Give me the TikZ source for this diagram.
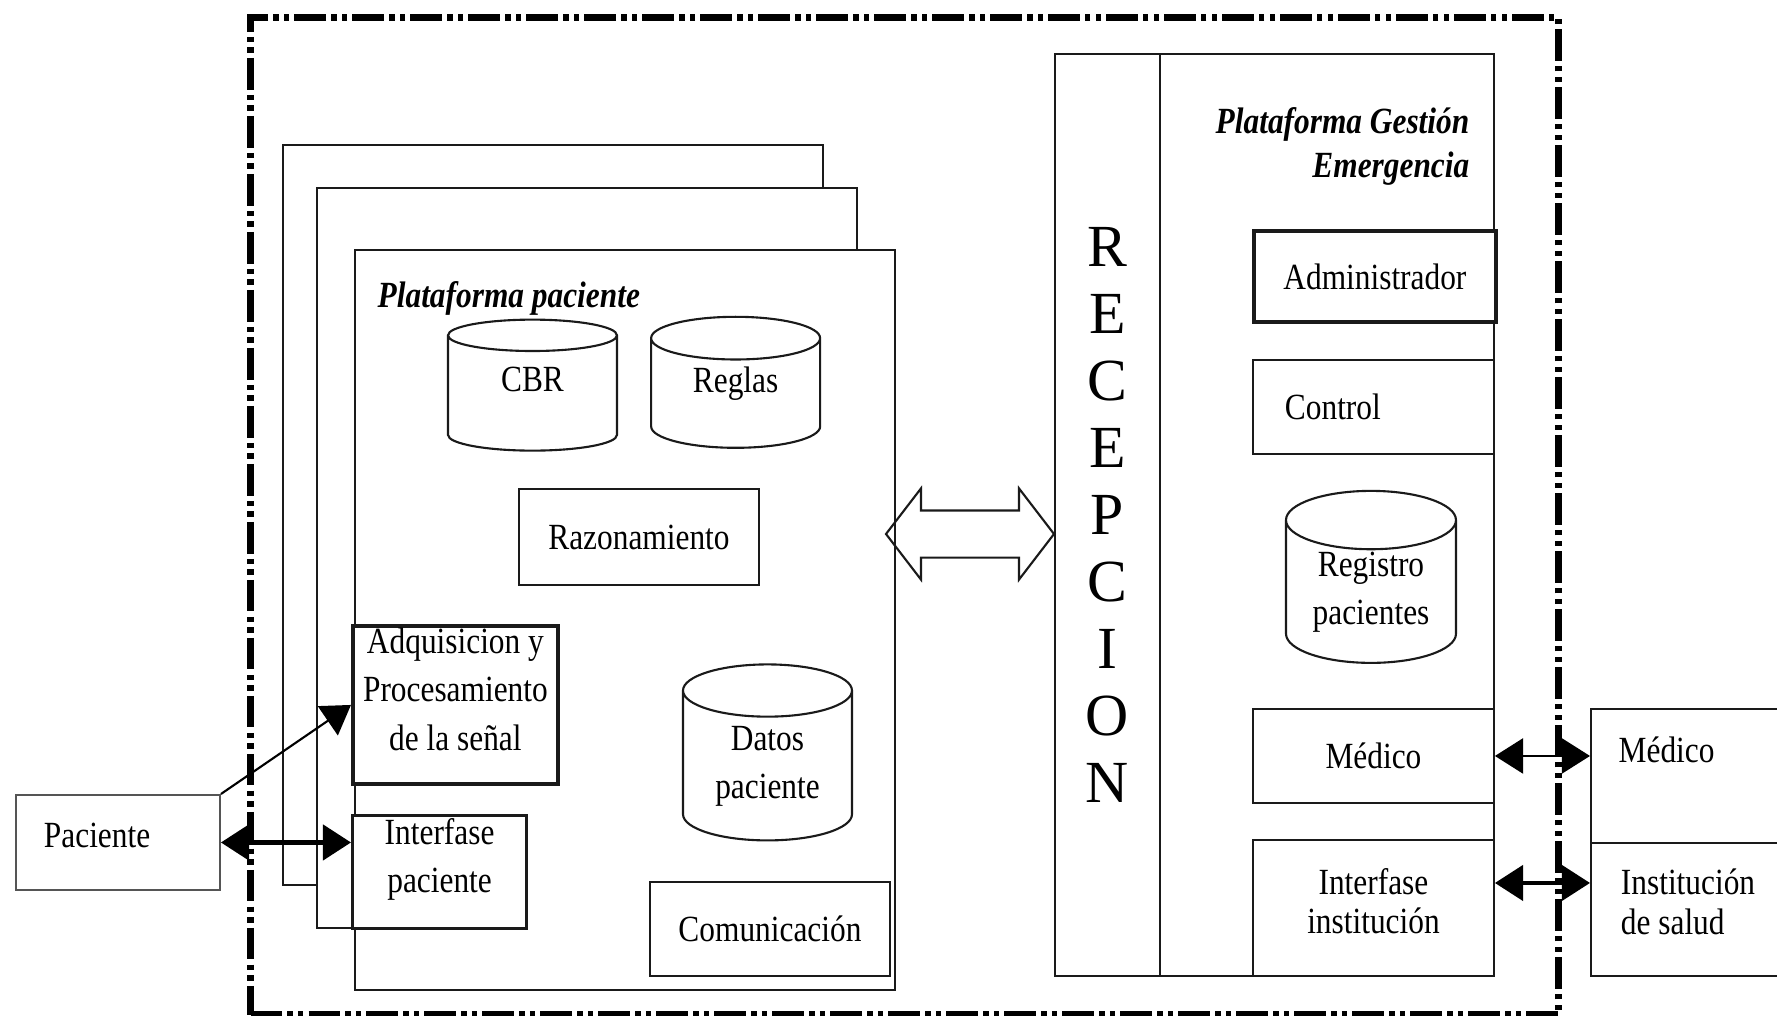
\documentclass[tikz,border=0pt]{standalone}
\usepackage{fontspec}
\setmainfont{Liberation Serif}[FakeStretch=0.85]
\newfontfamily\recfont{Liberation Serif}
\usepackage{tikz}
\usetikzlibrary{shapes.geometric,shapes.arrows,arrows.meta,positioning}
\definecolor{bordecol}{HTML}{1A1A1A}
\definecolor{grcol}{HTML}{555555}
\newcommand{\txtsize}{\fontsize{10.5}{13.7}\selectfont}
\newcommand{\txtsmall}{\fontsize{10.5}{11.3}\selectfont}

\begin{document}
\begin{tikzpicture}[>={Triangle[length=8pt,width=10pt]},
  box/.style={draw=bordecol,line width=0.55pt,fill=white,anchor=north west,inner sep=2pt,align=center,font=\txtsize},
  thickbox/.style={box,line width=1.1pt},
  page/.style={draw=bordecol,line width=0.6pt,fill=white,anchor=north west,minimum width=5.40cm,minimum height=7.40cm},
  db/.style={cylinder,shape border rotate=90,aspect=0.5,draw=bordecol,line width=0.6pt,fill=white,minimum width=1.69cm,inner sep=0pt,align=center,font=\txtsize},
  txt/.style={inner sep=1pt,align=center,font=\txtsize},
  ttl/.style={inner sep=0pt,font=\fontsize{10.5}{12.3}\selectfont\bfseries\itshape}]
  \useasboundingbox (0,0) rectangle (17.77,-10.16);
  \clip (0,0) rectangle (17.77,-10.16);
  \node[draw,line width=2pt,dash pattern=on 9pt off 1.5pt on 1.5pt off 1.5pt on 1.5pt off 1.5pt,anchor=north west,minimum width=13.08cm,minimum height=9.97cm] (sistema) at (2.47,-0.14) {};
  \node[page] (platpacC) at (2.82,-1.44) {};
  \node[page] (platpacB) at (3.16,-1.87) {};
  \node[page] (platpac) at (3.54,-2.49) {};
  \node[ttl,anchor=west] (platpacttl) at (3.77,-2.98) {Plataforma paciente};
  \node[db,minimum height=1.31cm,text depth=0.28cm] (cbr) at (5.325,-3.935) {CBR};
  \node[db,minimum height=1.31cm,text depth=0.28cm,right=0.32cm of cbr] (reglas) {Reglas};
  \node[box,minimum width=2.40cm,minimum height=0.96cm] (razon) at (5.18,-4.88) {Razonamiento};
  \node[thickbox,minimum width=2.05cm,minimum height=1.58cm] (adq) at (3.51,-6.24) {};
  \node[txt,below=0pt of adq.north] (adqtxt) {Adquisicion y\\Procesamiento\\de la señal};
  \node[box,line width=0.9pt,minimum width=1.74cm,minimum height=1.13cm] (intpac) at (3.51,-8.14) {};
  \node[txt,below=0pt of intpac.north] (intpactxt) {Interfase\\paciente};
  \node[db,minimum height=1.76cm] (datos) at (7.675,-7.66) {Datos\\paciente};
  \node[box,minimum width=2.40cm,minimum height=0.94cm] (comun) at (6.49,-8.81) {Comunicación};
  \node[box,draw=grcol,minimum width=2.04cm,minimum height=0.95cm,text width=1.48cm,inner xsep=0.28cm,align=flush left,text depth=0.14cm] (paciente) at (0.15,-7.94) {Paciente};
  \node[double arrow,draw=bordecol,line width=0.6pt,minimum height=1.68cm,text height=0.225cm,text depth=0.225cm,double arrow head extend=0.22cm,double arrow tip angle=105,inner sep=0pt] (enlace) at (9.70,-5.34) {};
  \node[box,minimum width=4.39cm,minimum height=9.22cm] (gestion) at (10.54,-0.53) {};
  \node[box,minimum width=1.05cm,minimum height=9.22cm,font=\recfont\fontsize{17}{19.06}\selectfont] (recep) at (10.54,-0.53) {R\\E\\C\\E\\P\\C\\I\\O\\N};
  \node[ttl,align=right,anchor=east] (gestttl) at (14.70,-1.465) {Plataforma Gestión\\Emergencia};
  \node[thickbox,minimum width=2.42cm,minimum height=0.91cm] (admin) at (12.52,-2.29) {Administrador};
  \node[box,minimum width=2.41cm,minimum height=0.94cm,text width=1.77cm,inner xsep=0.32cm,align=flush left] (control) at (12.52,-3.59) {Control};
  \node[db,minimum width=1.70cm,minimum height=1.72cm] (registro) at (13.71,-5.92) {Registro\\pacientes};
  \node[box,minimum width=2.41cm,minimum height=0.94cm] (medint) at (12.52,-7.08) {Médico};
  \node[box,minimum width=2.41cm,minimum height=1.36cm,font=\txtsmall,text depth=0.14cm] (intinst) at (12.52,-8.39) {Interfase\\institución};
  \node[box,minimum width=2.2cm,minimum height=1.34cm] (medext) at (15.90,-7.08) {};
  \node[txt,anchor=north west,below right=0.25cm and 0.245cm of medext.north west] (medexttxt) {Médico};
  \node[box,minimum width=2.2cm,minimum height=1.33cm,text width=1.6cm,inner xsep=0.28cm,align=flush left,font=\txtsmall,text depth=0.55cm] (instext) at (15.90,-8.42) {Institución\\de salud};
  \draw[->,line width=0.6pt] (paciente.north east) -- (adq.west);
  \draw[<->,line width=1.3pt] (paciente.east) -- (paciente.east -| intpac.west);
  \draw[<->,line width=0.5pt] (medint.east) -- (medint.east -| medext.west);
  \draw[<->,line width=1.1pt] ([yshift=2.5mm]intinst.east) -- ([yshift=2.5mm]intinst.east -| instext.west);
\end{tikzpicture}
\end{document}
